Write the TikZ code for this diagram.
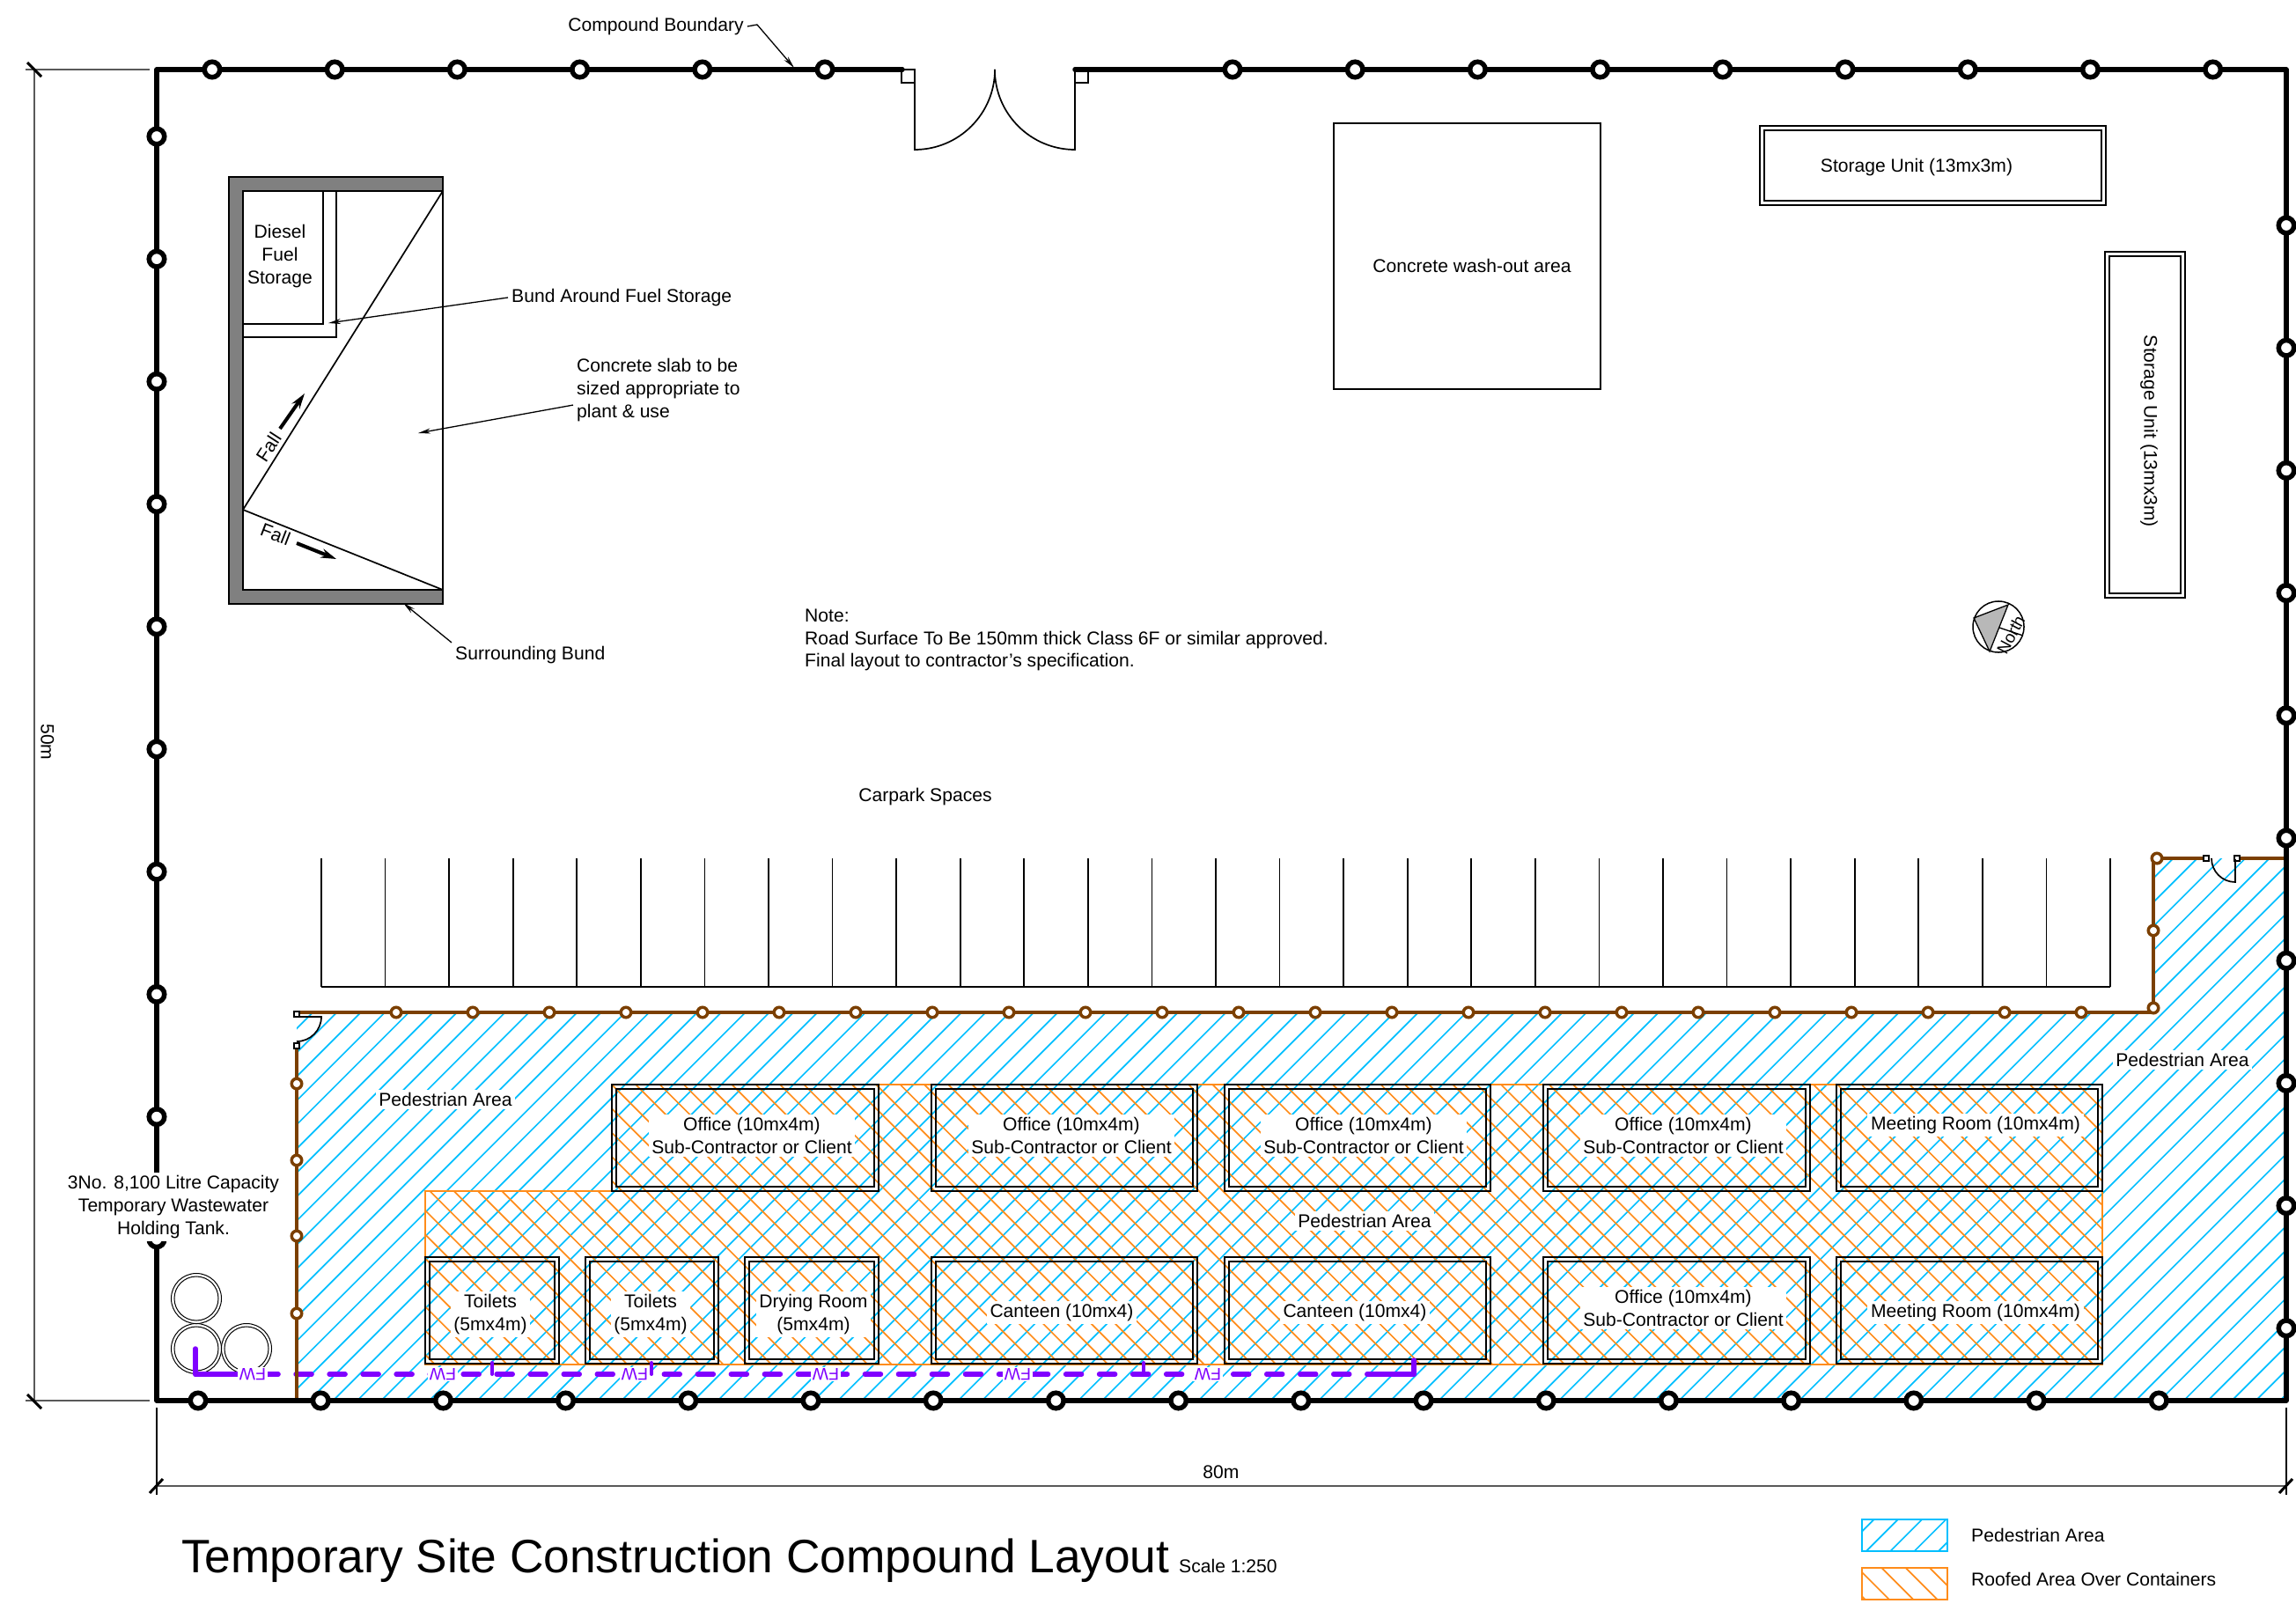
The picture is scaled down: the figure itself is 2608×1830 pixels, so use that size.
\documentclass[tikz,border=0pt]{standalone}
\usepackage{fontspec}
\setmainfont{Liberation Sans}
\usetikzlibrary{arrows.meta}
\definecolor{pedcyan}{HTML}{00BFFF}
\definecolor{roofor}{HTML}{FF8C1A}
\definecolor{fencebrown}{HTML}{7B3F00}
\definecolor{drainpurple}{HTML}{8000FF}
\begin{document}
\begin{tikzpicture}[x=.01cm,y=-.01cm,
every node/.style={font=\fontsize{6}{7.3}\selectfont,inner sep=1pt},
lbl/.style={fill=white,align=center},
fine/.style={draw=black,line width=.17mm},
unitline/.style={draw=black,line width=.13mm},
dimline/.style={draw=black!65,line width=.15mm},
dimtick/.style={draw=black,line width=.3mm},
leader/.style={draw=black,line width=.13mm,-{Stealth[length=4pt,width=1.7pt]}},
fallarrow/.style={draw=black,line width=.4mm,-{Stealth[length=5pt,width=3pt]}},
pedhatch/.style={draw=pedcyan,line width=.17mm},
roofhatch/.style={draw=roofor,line width=.17mm},
boundary/.style={draw=black,line width=.55mm,line cap=round,line join=round},
fence/.style={draw=fencebrown,line width=.35mm},
drain/.style={draw=drainpurple,line width=.55mm,line cap=round,line join=round},
post/.style={circle,draw=black,fill=white,line width=.55mm,minimum size=1.75mm,inner sep=0pt},
fencepost/.style={circle,draw=fencebrown,fill=white,line width=.35mm,minimum size=1.15mm,inner sep=0pt}]
\useasboundingbox (0,0) rectangle (2608,1830);

% hatched areas
\begin{scope}
\clip (337,1150) -- (2446,1150) -- (2446,975) -- (2597,975) -- (2597,1591) -- (337,1591) -- cycle;
\foreach \k in {48,...,154} \draw[pedhatch] (27.3*\k+3.8-900,900) -- (27.3*\k+3.8-1700,1700);
\end{scope}
\begin{scope}
\clip (483,1353) -- (695,1353) -- (695,1232) -- (2388,1232) -- (2388,1550) -- (483,1550) -- cycle;
\foreach \k in {-40,...,43} \draw[roofhatch] (27.3*\k+8.9+1200,1200) -- (27.3*\k+8.9+1600,1600);
\end{scope}
\draw[roofhatch] (483,1353) -- (695,1353) -- (695,1232) -- (2388,1232) -- (2388,1550) -- (483,1550) -- cycle;

% containers and storage units
\foreach \xa/\ya/\xb/\yb in {695/1232/998/1353,1058/1232/1360/1353,1391/1232/1693/1353,1753/1232/2056/1353,2086/1232/2388/1353,
483/1428/635/1549,665/1428/816/1549,846/1428/998/1549,1058/1428/1360/1549,1391/1428/1693/1549,1753/1428/2056/1549,2086/1428/2388/1549,
1999/143/2392/233,2391/286/2482/679}
{\draw[unitline] (\xa,\ya) rectangle (\xb,\yb);
\draw[unitline] (\xa+5,\ya+5) rectangle (\xb-5,\yb-5);}
\draw[unitline] (1515,140) rectangle (1818,442);

% fuel area
\draw[fill=black!50,line width=.15mm] (260,201) rectangle (503,686);
\draw[fill=white,line width=.15mm] (276,217) rectangle (503,670);
\draw[line width=.17mm] (276,217) rectangle (382,383);
\draw[line width=.17mm] (276,217) rectangle (367,368);
\draw[fine] (276,579) -- (503,217);
\draw[fine] (276,579) -- (503,670);
\draw[fallarrow] (318,487) -- (346,447);
\draw[fallarrow] (337,617) -- (382,635);
\node[rotate=57] (fallup) at (305,508) {Fall};
\node[rotate=-21] (falldown) at (313,607) {Fall};
\node[align=center] (dieselnote) at (318,291) {Diesel\\Fuel\\Storage};

% car park
\draw[fine] (365,1121) -- (2397,1121);
\foreach \i in {0,...,28} \draw[fine] (365+72.57*\i,975) -- (365+72.57*\i,1121);

% tanks
\foreach \tx/\ty in {223/1475,223/1532,280/1532}
{\draw[line width=.1mm] (\tx,\ty) circle [radius=2.85mm];
\draw[line width=.1mm] (\tx,\ty) circle [radius=2.5mm];}

% foul water run
\draw[drain,dash pattern=on 1.8mm off 2mm] (222,1561) -- (1606,1561);
\draw[drain] (222,1532) -- (222,1561) -- (262,1561);
\draw[drain] (1570,1561) -- (1606,1561) -- (1606,1545);
\foreach \sx in {559,740,1299} \draw[drain,line width=.4mm] (\sx,1548) -- (\sx,1561);
\foreach \i/\fx in {0/287,1/503,2/721,3/938,4/1156,5/1372}
\node[rotate=180,fill=white,inner sep=.5pt,text=drainpurple,font=\fontsize{5.5}{6}\selectfont] (fw\i) at (\fx,1561) {FW};

% fence
\draw[fence] (337,1188) -- (337,1591);
\draw[fence] (340,1150) -- (2446,1150) -- (2446,975) -- (2506,975);
\draw[fence] (2541,975) -- (2597,975);
\foreach \i in {0,...,22} \node[fencepost] (fa\i) at (450+87*\i,1150) {};
\foreach \fy in {1231,1318,1404,1492} \node[fencepost] (fb\fy) at (337,\fy) {};
\node[fencepost] (fc0) at (2446,1145) {};
\node[fencepost] (fc1) at (2446,1057) {};
\node[fencepost] (fc2) at (2450,975) {};
% pedestrian gates
\draw[fine,fill=white] (334,1149) rectangle (340,1155);
\draw[fine,fill=white] (334,1185) rectangle (340,1191);
\draw[fine] (337,1155) -- (365,1155) arc (0:-90:2.8mm);
\draw[fine,fill=white] (2503,972) rectangle (2509,978);
\draw[fine,fill=white] (2538,972) rectangle (2544,978);
\draw[fine] (2539,976) -- (2539,1002) arc (270:180:2.7mm);

% compound boundary and main gate
\draw[boundary] (1025,79) -- (178,79) -- (178,1591) -- (2597,1591) -- (2597,79) -- (1221,79);
\foreach \i in {0,...,5} \node[post] (ta\i) at (241+139.2*\i,79) {};
\foreach \i in {0,...,8} \node[post] (tb\i) at (1400+139.2*\i,79) {};
\foreach \i in {0,...,9} \node[post] (la\i) at (178,155+139.2*\i) {};
\foreach \i in {0,...,9} \node[post] (ra\i) at (2597,256+139.2*\i) {};
\foreach \i in {0,...,16} \node[post] (ba\i) at (225+139.2*\i,1591) {};
\draw[fine] (1024,79) rectangle (1039,94);
\draw[fine] (1221,79) rectangle (1236,94);
\draw[fine] (1039,79) -- (1039,170) arc (270:360:9.1mm);
\draw[fine] (1221,79) -- (1221,170) arc (270:180:9.1mm);

% labels on the hatch
\node[lbl] (ofa) at (854,1290) {Office (10mx4m)\\Sub-Contractor or Client};
\node[lbl] (ofb) at (1217,1290) {Office (10mx4m)\\Sub-Contractor or Client};
\node[lbl] (ofc) at (1549,1290) {Office (10mx4m)\\Sub-Contractor or Client};
\node[lbl] (ofd) at (1912,1290) {Office (10mx4m)\\Sub-Contractor or Client};
\node[lbl] (meeta) at (2244,1278) {Meeting Room (10mx4m)};
\node[lbl] (toia) at (557,1493) {Toilets\\(5mx4m)};
\node[lbl] (toib) at (739,1493) {Toilets\\(5mx4m)};
\node[lbl] (dry) at (924,1493) {Drying Room\\(5mx4m)};
\node[lbl] (cana) at (1206,1491) {Canteen (10mx4)};
\node[lbl] (canb) at (1539,1491) {Canteen (10mx4)};
\node[lbl] (ofe) at (1912,1486) {Office (10mx4m)\\Sub-Contractor or Client};
\node[lbl] (meetb) at (2244,1491) {Meeting Room (10mx4m)};
\node[lbl] (peda) at (506,1249) {Pedestrian Area};
\node[lbl] (pedb) at (2479,1204) {Pedestrian Area};
\node[lbl] (pedc) at (1550,1387) {Pedestrian Area};
\node[lbl] (tanknote) at (197,1371) {3No. 8,100 Litre Capacity\\Temporary Wastewater\\Holding Tank.};

% other labels
\node (washnote) at (1672,302) {Concrete wash-out area};
\node (storea) at (2177,190) {Storage Unit (13mx3m)};
\node[rotate=-90] (storeb) at (2441,490) {Storage Unit (13mx3m)};
\node[anchor=west,align=left] (notenote) at (910,727) {Note:\\Road Surface To Be 150mm thick Class 6F or similar approved.\\Final layout to contractor's specification.};
\node (carnote) at (1051,905) {Carpark Spaces};

% leaders
\node[anchor=east] (boundnote) at (849,30) {Compound Boundary};
\coordinate (boundknee) at (860,28);
\coordinate (boundtip) at (902,77);
\draw[leader] (boundnote.east) -- (boundknee) -- (boundtip);
\node[anchor=west] (bundnote) at (577,338) {Bund Around Fuel Storage};
\coordinate (bundtip) at (373,367);
\draw[leader] (bundnote.west) -- (bundtip);
\node[anchor=west,align=left] (slabnote) at (651,443) {Concrete slab to be\\sized appropriate to\\plant \& use};
\coordinate (slabtip) at (475,492);
\draw[leader] (slabnote.190) -- (slabtip);
\node[anchor=west] (surrnote) at (513,744) {Surrounding Bund};
\coordinate (surrtip) at (458,685);
\draw[leader] (surrnote.north west) -- (surrtip);

% north point
\draw[fill=black!28,line width=.13mm] (2242,702) -- (2281,687) -- (2260,740) -- cycle;
\draw[line width=.15mm] (2270,712) circle [radius=2.9mm];
\draw[line width=.13mm] (2271,713) -- (2298,722);
\node[rotate=62,font=\fontsize{5.4}{6}\selectfont] (northnote) at (2284,721) {North};

% dimensions
\coordinate (dimta) at (39,79);
\coordinate (dimba) at (39,1591);
\coordinate (dimla) at (178,1688);
\coordinate (dimra) at (2597,1688);
\draw[dimline] (dimta) -- (dimba);
\draw[dimline] (29,79) -- (170,79);
\draw[dimline] (29,1591) -- (170,1591);
\draw[dimline] (dimla) -- (dimra);
\draw[fine] (178,1599) -- (178,1698);
\draw[fine] (2597,1599) -- (2597,1698);
\draw[dimtick] (31,71) -- (47,87);
\draw[dimtick] (31,1584) -- (47,1600);
\draw[dimtick] (170,1696) -- (185,1680);
\draw[dimtick] (2589,1696) -- (2604,1680);
\node[rotate=-90] (dimh) at (54,843) {50m};
\node (dimw) at (1387,1672) {80m};

% title
\node[anchor=west,font=\fontsize{15.15}{18}\selectfont] (titlenote) at (202,1773) {Temporary Site Construction Compound Layout};
\node[anchor=west] (scalenote) at (1335,1779) {Scale 1:250};

% legend
\begin{scope}
\clip (2115,1726) rectangle (2212,1762);
\foreach \k in {0,...,8} \draw[pedhatch] (3800+27.3*\k-1700,1700) -- (3800+27.3*\k-1800,1800);
\end{scope}
\draw[pedhatch] (2115,1726) rectangle (2212,1762);
\begin{scope}
\clip (2115,1781) rectangle (2212,1817);
\foreach \k in {-2,...,6} \draw[roofhatch] (329+27.3*\k+1750,1750) -- (329+27.3*\k+1850,1850);
\end{scope}
\draw[roofhatch] (2115,1781) rectangle (2212,1817);
\node[anchor=west] (legped) at (2235,1744) {Pedestrian Area};
\node[anchor=west] (legroof) at (2235,1794) {Roofed Area Over Containers};

\end{tikzpicture}
\end{document}
